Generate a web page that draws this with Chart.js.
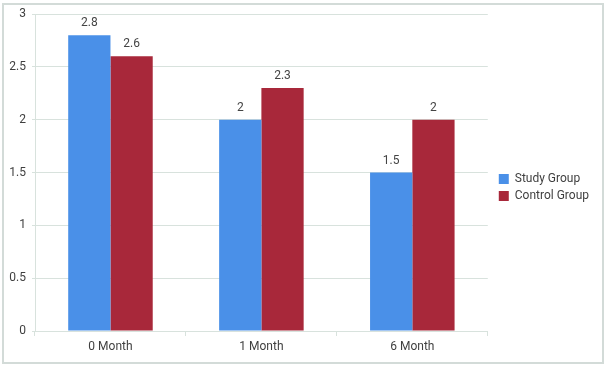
<!DOCTYPE html>
<html lang="en">
<head>
    <meta charset="UTF-8">
    <title>Study vs Control Group</title>
    <script src="https://cdn.jsdelivr.net/npm/chart.js"></script>
    <style>
        body {
            margin: 0;
            background: #FFFFFF;
            font-family: Roboto, Arial, sans-serif;
        }
        .wrap {
            position: absolute;
            left: 0;
            top: 0;
            width: 609px;
            height: 369px;
        }
        .frame {
            position: absolute;
            left: 2px;
            top: 3px;
            width: 598px;
            height: 357px;
            border: 2px solid #D3DBD8;
            pointer-events: none;
        }
    </style>
</head>
<body>
    <div class="wrap"><canvas id="chart" width="609" height="369"></canvas></div>
    <div class="frame"></div>
    <script>
        const categories = ["0 Month", "1 Month", "6 Month"];
        const studyGroup = [2.8, 2, 1.5];
        const controlGroup = [2.6, 2.3, 2];

        // draws the value above each bar
        const valueLabels = {
            id: 'valueLabels',
            afterDatasetsDraw(chart) {
                const ctx = chart.ctx;
                ctx.save();
                ctx.font = '12px Roboto, Arial, sans-serif';
                ctx.fillStyle = '#444';
                ctx.textAlign = 'center';
                ctx.textBaseline = 'bottom';
                chart.data.datasets.forEach((ds, i) => {
                    chart.getDatasetMeta(i).data.forEach((bar, j) => {
                        ctx.fillText(ds.data[j], bar.x, bar.y - 6);
                    });
                });
                ctx.restore();
            }
        };

        // push the legend a little away from the plot
        const legendGap = {
            id: 'legendGap',
            afterLayout(chart) {
                chart.legend.left += 6;
                chart.legend.right += 6;
            }
        };

        const ctx = document.getElementById('chart').getContext('2d');
        const chart = new Chart(ctx, {
            type: 'bar',
            data: {
                labels: categories,
                datasets: [
                    {
                        label: "Study Group",
                        data: studyGroup,
                        backgroundColor: "#4A90E8",
                        categoryPercentage: 0.56,
                        barPercentage: 1
                    },
                    {
                        label: "Control Group",
                        data: controlGroup,
                        backgroundColor: "#A8283A",
                        categoryPercentage: 0.56,
                        barPercentage: 1
                    }
                ]
            },
            options: {
                responsive: false,
                animation: false,
                layout: {
                    padding: { left: 2, top: 14, right: 16, bottom: 8 }
                },
                scales: {
                    x: {
                        grid: {
                            offset: true,
                            drawOnChartArea: false,
                            tickLength: 5,
                            color: "#D8E2DD"
                        },
                        border: { color: "#D8E2DD" },
                        ticks: {
                            color: "#3F3F3F",
                            font: { family: "Roboto", size: 12 },
                            padding: 4
                        },
                        afterFit(s) { s.height = 30; }
                    },
                    y: {
                        min: 0,
                        max: 3,
                        grid: {
                            color: "#D8E2DD",
                            tickLength: 3
                        },
                        border: { color: "#D8E2DD" },
                        ticks: {
                            stepSize: 0.5,
                            color: "#3F3F3F",
                            font: { family: "Roboto", size: 12 },
                            padding: 6,
                            callback: v => String(v)
                        },
                        afterFit(s) { s.width = 33; }
                    }
                },
                plugins: {
                    legend: {
                        position: 'right',
                        labels: {
                            boxWidth: 10,
                            boxHeight: 10,
                            padding: 5,
                            color: "#3F3F3F",
                            font: { family: "Roboto", size: 12 }
                        }
                    },
                    tooltip: { enabled: false }
                }
            },
            plugins: [valueLabels, legendGap]
        });
    </script>
</body>
</html>
